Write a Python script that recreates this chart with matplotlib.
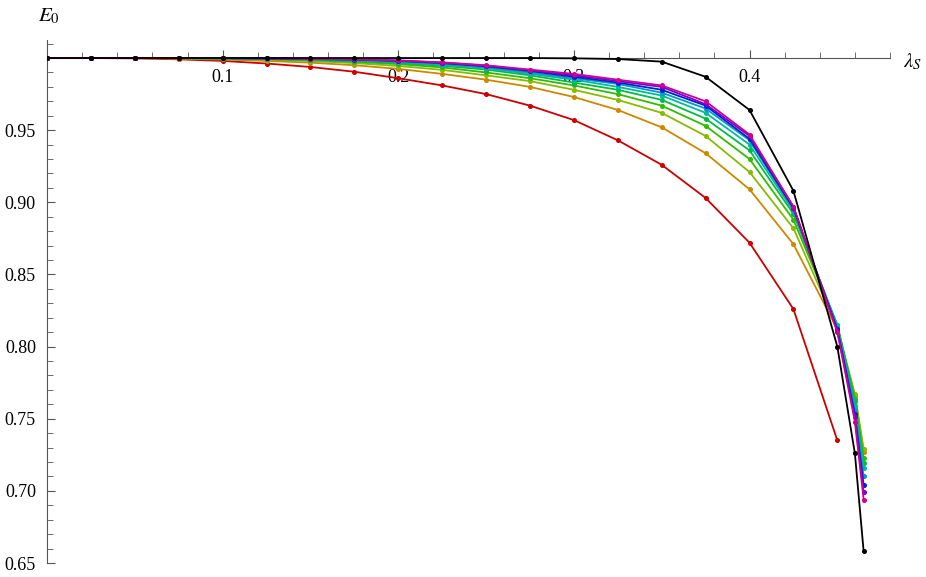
import matplotlib
matplotlib.use("Agg")
import matplotlib.pyplot as plt
from matplotlib.ticker import MultipleLocator, FixedLocator

x_full = [0, 0.025, 0.05, 0.075, 0.1, 0.125, 0.15, 0.175, 0.2, 0.225, 0.25, 0.275,
          0.3, 0.325, 0.35, 0.375, 0.4, 0.425, 0.45, 0.46, 0.465]
x_red = x_full[:19]

red = [1, 1, 0.9998, 0.9991, 0.998, 0.9962, 0.9938, 0.9905, 0.986, 0.981, 0.975, 0.967,
       0.957, 0.943, 0.926, 0.903, 0.872, 0.826, 0.735]
orange = [1, 1, 1, 0.9996, 0.999, 0.998, 0.9968, 0.995, 0.9925, 0.989, 0.985, 0.980,
          0.973, 0.964, 0.952, 0.934, 0.909, 0.871, 0.812, 0.766, 0.727]
yellowgreen = [1, 1, 1, 0.9998, 0.9994, 0.9988, 0.9979, 0.9965, 0.9945, 0.9918, 0.988, 0.984,
               0.978, 0.971, 0.962, 0.946, 0.921, 0.882, 0.813, 0.767, 0.729]
green = [1, 1, 1, 0.9999, 0.9996, 0.9992, 0.9985, 0.9974, 0.9958, 0.9935, 0.990, 0.986,
         0.981, 0.975, 0.967, 0.953, 0.930, 0.888, 0.815, 0.764, 0.723]
green2 = [1, 1, 1, 1, 0.9997, 0.9994, 0.9988, 0.998, 0.9966, 0.9946, 0.992, 0.988,
          0.983, 0.978, 0.971, 0.958, 0.936, 0.892, 0.815, 0.762, 0.719]
teal = [1, 1, 1, 1, 0.9998, 0.9995, 0.999, 0.9984, 0.9972, 0.9954, 0.993, 0.989,
        0.985, 0.980, 0.974, 0.962, 0.940, 0.894, 0.814, 0.759, 0.716]
lightblue = [1, 1, 1, 1, 0.9999, 0.9996, 0.9992, 0.9987, 0.9976, 0.996, 0.9937, 0.990,
             0.986, 0.982, 0.976, 0.965, 0.943, 0.895, 0.813, 0.756, 0.710]
blue = [1, 1, 1, 1, 0.9999, 0.9997, 0.9993, 0.9989, 0.998, 0.9965, 0.9943, 0.991,
        0.987, 0.983, 0.978, 0.967, 0.944, 0.896, 0.812, 0.753, 0.704]
purple = [1, 1, 1, 1, 1, 0.9998, 0.9994, 0.999, 0.9982, 0.9968, 0.9947, 0.9915,
          0.988, 0.984, 0.980, 0.968, 0.946, 0.897, 0.811, 0.751, 0.699]
magenta = [1, 1, 1, 1, 1, 0.9998, 0.9995, 0.9991, 0.9984, 0.997, 0.995, 0.992,
           0.989, 0.985, 0.981, 0.970, 0.947, 0.897, 0.810, 0.748, 0.694]
black = [1, 1, 1, 1, 1, 1, 1, 1, 1, 1, 1, 1,
         0.9998, 0.9993, 0.9975, 0.987, 0.964, 0.908, 0.80, 0.726, 0.658]

series = [
    (x_red, red, '#cc0000'),
    (x_full, orange, '#cc8800'),
    (x_full, yellowgreen, '#88bb00'),
    (x_full, green, '#33bb00'),
    (x_full, green2, '#00bb44'),
    (x_full, teal, '#00bb99'),
    (x_full, lightblue, '#0099cc'),
    (x_full, blue, '#0022cc'),
    (x_full, purple, '#7700cc'),
    (x_full, magenta, '#cc0099'),
    (x_full, black, '#000000'),
]

plt.rcParams['font.family'] = ['Liberation Serif', 'DejaVu Serif']
plt.rcParams['mathtext.fontset'] = 'stix'

fig = plt.figure(figsize=(9.26, 5.77), dpi=100)
ax = fig.add_axes([47/926, 14/577, (890-47)/926, (537-14)/577])
for xs, ys, c in series:
    ax.plot(xs, ys, color=c, lw=1.3, marker='o', ms=2.6, zorder=3)

ax.set_xlim(0, 0.48)
ax.set_ylim(0.65, 1.0125)
for s in ['top', 'right']:
    ax.spines[s].set_visible(False)
ax.spines['bottom'].set_position(('data', 1.0))
ax.spines['left'].set_position(('data', 0.0))
ax.spines['bottom'].set_color('#555555')
ax.spines['left'].set_color('#555555')

ax.xaxis.set_major_locator(FixedLocator([0.1, 0.2, 0.3, 0.4]))
ax.xaxis.set_minor_locator(MultipleLocator(0.02))
ax.yaxis.set_major_locator(FixedLocator([0.65, 0.70, 0.75, 0.80, 0.85, 0.90, 0.95]))
ax.yaxis.set_minor_locator(MultipleLocator(0.01))
ax.set_xticklabels(['0.1', '0.2', '0.3', '0.4'])
ax.set_yticklabels(['0.65', '0.70', '0.75', '0.80', '0.85', '0.90', '0.95'])
ax.tick_params(axis='x', which='major', direction='in', length=6, labelsize=13, color='#555555', pad=8)
ax.tick_params(axis='x', which='minor', direction='in', length=4, color='#555555')
ax.tick_params(axis='y', which='major', direction='in', length=6, labelsize=13, color='#555555', pad=8)
ax.tick_params(axis='y', which='minor', direction='in', length=4, color='#555555')

fig.text(903/926, 1 - 62/577, r'$\lambda_S$', fontsize=15, ha='left', va='center')
fig.text(38/926, 1 - 16/577, r'$E_0$', fontsize=15, ha='left', va='center')

fig.savefig('out.png', dpi=100)
